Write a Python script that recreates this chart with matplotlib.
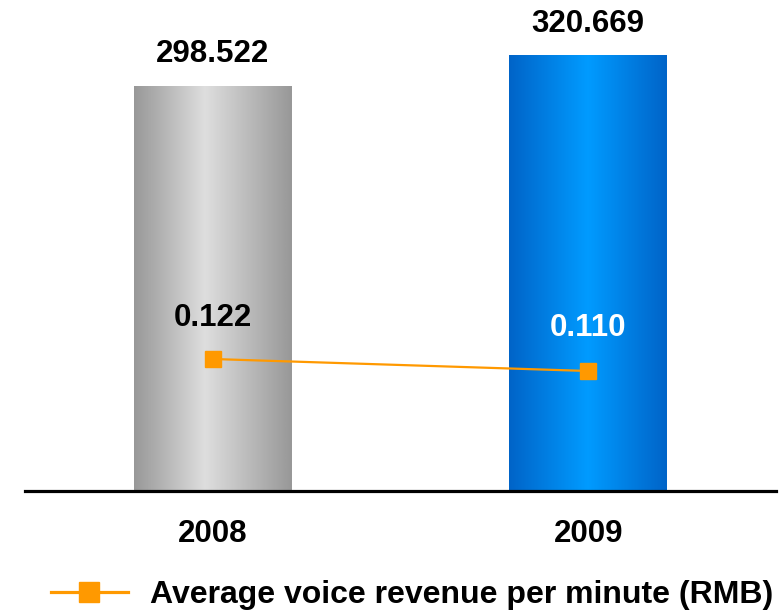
import numpy as np
import matplotlib
matplotlib.use("Agg")
import matplotlib.pyplot as plt
from matplotlib.colors import LinearSegmentedColormap
from matplotlib.lines import Line2D

plt.rcParams['font.family'] = ['Liberation Sans', 'DejaVu Sans']

years = ["2008", "2009"]
bar_values = [298.522, 320.669]
bar_labels = ["298.522", "320.669"]
rate_values = [0.122, 0.110]
rate_labels = ["0.122", "0.110"]
legend_label = "Average voice revenue per minute (RMB)"

gray_cmap = LinearSegmentedColormap.from_list(
    "gray_bar", [(0.0, "#989898"), (0.45, "#dedede"), (1.0, "#989898")])
blue_cmap = LinearSegmentedColormap.from_list(
    "blue_bar", [(0.0, "#0064c8"), (0.5, "#009bff"), (1.0, "#0064c8")])
bar_cmaps = [gray_cmap, blue_cmap]
orange = "#ff9900"

fig = plt.figure(figsize=(7.79, 6.13), dpi=100)
ax = fig.add_axes([25 / 779, 1 - 491 / 613, 751 / 779, 471 / 613])
x = np.arange(len(years))

bars = ax.bar(x, bar_values, width=0.42, color="none", edgecolor="none", zorder=2)
grad = np.linspace(0, 1, 256).reshape(1, -1)
for patch, cmap in zip(bars, bar_cmaps):
    bx, by = patch.get_x(), patch.get_y()
    bw, bh = patch.get_width(), patch.get_height()
    ax.imshow(grad, cmap=cmap, aspect="auto", extent=(bx, bx + bw, by, by + bh),
              zorder=1, interpolation="bilinear")

ax.set_xlim(-0.5, 1.5)
ax.set_ylim(0, 347.2)

for xi, v, lab in zip(x, bar_values, bar_labels):
    ax.annotate(lab, (xi, v), xytext=(0, 32), textcoords="offset pixels",
                ha="center", va="center", fontsize=22.5, fontweight="bold",
                color="black")

for s in ["top", "left", "right"]:
    ax.spines[s].set_visible(False)
ax.spines["bottom"].set_linewidth(2.3)
ax.set_yticks([])
ax.set_xticks(x)
ax.set_xticklabels(years, fontsize=22.5, fontweight="bold")
ax.tick_params(axis="x", length=0, pad=20)

ax2 = ax.twinx()
ax2.set_ylim(-0.010, 0.461)
ax2.axis("off")
ax2.plot(x, rate_values, color=orange, lw=1.6, marker="s", markersize=11,
         markerfacecolor=orange, markeredgecolor=orange, zorder=3)
rate_colors = ["black", "white"]
rate_offsets = [41, 43]
for xi, v, lab, c, off in zip(x, rate_values, rate_labels, rate_colors, rate_offsets):
    ax2.annotate(lab, (xi, v), xytext=(0, off), textcoords="offset pixels",
                 ha="center", va="center", fontsize=22.5, fontweight="bold", color=c)

handle = Line2D([], [], color=orange, lw=2.3, marker="s", markersize=14,
                markerfacecolor=orange, markeredgecolor=orange)
fig.legend([handle], [legend_label], loc="center left",
           bbox_to_anchor=(51 / 779, 1 - 595 / 613), frameon=False,
           borderpad=0, borderaxespad=0, handlelength=2.4, handletextpad=0.7,
           prop={"size": 23, "weight": "bold"})

fig.savefig("out.png", dpi=100)
